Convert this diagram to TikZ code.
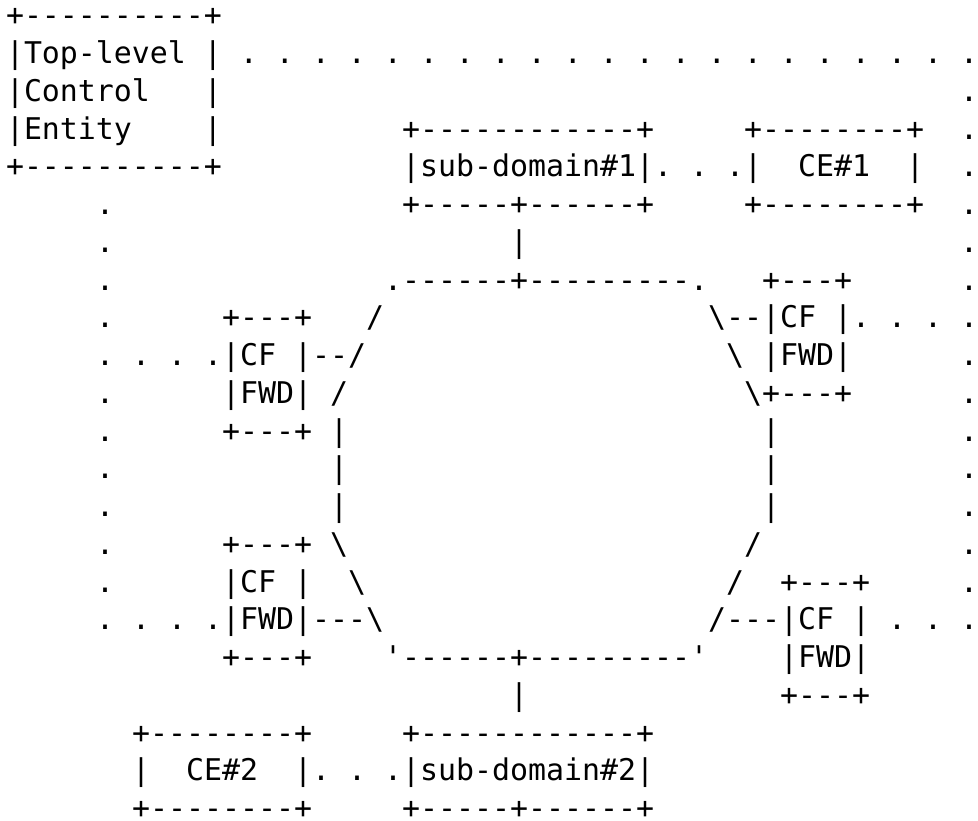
\documentclass[tikz,border=0pt]{standalone}
\usepackage{fontspec}
\setmonofont{DejaVu Sans Mono}
\newlength\chw
% typewriter face for the rows; \chw is one character cell of it
\newcommand\asciifont{\ttfamily\fontsize{29.9pt}{37.8pt}\selectfont
  \setlength\chw{\fontcharwd\font`M}}
% blank character cells
\newcommand\bl[1]{\hspace*{#1\chw}}
\begin{document}
\begin{tikzpicture}[x=1pt,y=1pt,
  asciirow/.style={anchor=base west,inner sep=0pt,outer sep=0pt,
    text depth=0pt,font=\asciifont}]
\useasboundingbox (0,0) rectangle (978,820);
\def\rowy#1{820-26.0-37.75*#1}
\node[asciirow] (r00) at (6,{\rowy{0}})  {+----------+};
\node[asciirow] (r01) at (6,{\rowy{1}})  {|Top-level | . . . . . . . . . . . . . . . . . . . . .};
\node[asciirow] (r02) at (6,{\rowy{2}})  {|Control\bl3|\bl{41}.};
\node[asciirow] (r03) at (6,{\rowy{3}})  {|Entity\bl4|\bl{10}+------------+\bl5+--------+\bl2.};
\node[asciirow] (r04) at (6,{\rowy{4}})  {+----------+\bl{10}|sub-domain\#1|. . .|\bl2CE\#1\bl2|\bl2.};
\node[asciirow] (r05) at (6,{\rowy{5}})  {\bl5.\bl{16}+-----+------+\bl5+--------+\bl2.};
\node[asciirow] (r06) at (6,{\rowy{6}})  {\bl5.\bl{22}|\bl{24}.};
\node[asciirow] (r07) at (6,{\rowy{7}})  {\bl5.\bl{15}.------+---------.\bl3+---+\bl6.};
\node[asciirow] (r08) at (6,{\rowy{8}})  {\bl5.\bl6+---+\bl3/\bl{18}\textbackslash--|CF |. . . .};
\node[asciirow] (r09) at (6,{\rowy{9}})  {\bl5. . . .|CF |--/\bl{20}\textbackslash\bl1|FWD|\bl6.};
\node[asciirow] (r10) at (6,{\rowy{10}}) {\bl5.\bl6|FWD|\bl1/\bl{22}\textbackslash+---+\bl6.};
\node[asciirow] (r11) at (6,{\rowy{11}}) {\bl5.\bl6+---+\bl1|\bl{23}|\bl{10}.};
\node[asciirow] (r12) at (6,{\rowy{12}}) {\bl5.\bl{12}|\bl{23}|\bl{10}.};
\node[asciirow] (r13) at (6,{\rowy{13}}) {\bl5.\bl{12}|\bl{23}|\bl{10}.};
\node[asciirow] (r14) at (6,{\rowy{14}}) {\bl5.\bl6+---+\bl1\textbackslash\bl{22}/\bl{11}.};
\node[asciirow] (r15) at (6,{\rowy{15}}) {\bl5.\bl6|CF |\bl2\textbackslash\bl{20}/\bl2+---+\bl5.};
\node[asciirow] (r16) at (6,{\rowy{16}}) {\bl5. . . .|FWD|---\textbackslash\bl{18}/---|CF | . . .};
\node[asciirow] (r17) at (6,{\rowy{17}}) {\bl{12}+---+\bl4\textquotesingle------+---------\textquotesingle\bl4|FWD|};
\node[asciirow] (r18) at (6,{\rowy{18}}) {\bl{28}|\bl{14}+---+};
\node[asciirow] (r19) at (6,{\rowy{19}}) {\bl7+--------+\bl5+------------+};
\node[asciirow] (r20) at (6,{\rowy{20}}) {\bl7|\bl2CE\#2\bl2|. . .|sub-domain\#2|};
\node[asciirow] (r21) at (6,{\rowy{21}}) {\bl7+--------+\bl5+-----+------+};
\end{tikzpicture}
\end{document}
